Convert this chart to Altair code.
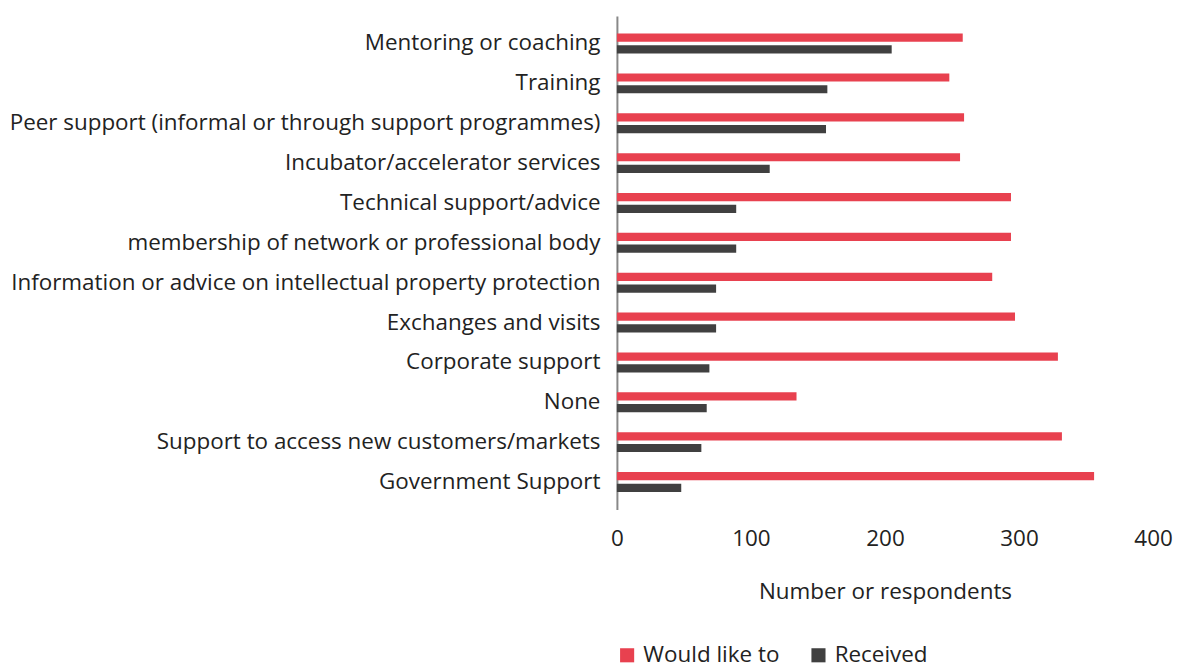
import altair as alt
import pandas as pd

categories = [
    "Mentoring or coaching",
    "Training",
    "Peer support (informal or through support programmes)",
    "Incubator/accelerator services",
    "Technical support/advice",
    "membership of network or professional body",
    "Information or advice on intellectual property protection",
    "Exchanges and visits",
    "Corporate support",
    "None",
    "Support to access new customers/markets",
    "Government Support",
]
would_like_to = [258, 248, 259, 256, 294, 294, 280, 297, 329, 134, 332, 356]
received = [205, 157, 156, 114, 89, 89, 74, 74, 69, 67, 63, 48]
series = ["Would like to", "Received"]
colors = ["#E8414F", "#404040"]

rows = []
for c, w, r in zip(categories, would_like_to, received):
    rows.append({"Category": c, "Series": series[0], "Value": w})
    rows.append({"Category": c, "Series": series[1], "Value": r})
df = pd.DataFrame(rows)

FONT = "Open Sans"
FS = 22.5

chart = alt.Chart(df).mark_bar().encode(
    y=alt.Y("Category:N", sort=categories,
            scale=alt.Scale(paddingInner=0.5, paddingOuter=0.4375),
            axis=alt.Axis(title=None, ticks=False, labelPadding=17,
                          labelFontSize=FS, labelColor="#222222", labelFont=FONT,
                          labelLimit=700, domainColor="#888888", domainWidth=2,
                          minExtent=609, maxExtent=609)),
    yOffset=alt.YOffset("Series:N", sort=series,
                        scale=alt.Scale(paddingInner=0.3)),
    x=alt.X("Value:Q", scale=alt.Scale(domain=[0, 400]),
            axis=alt.Axis(values=[0, 100, 200, 300, 400], grid=False, domain=False,
                          ticks=False, labelFlush=False, labelPadding=18,
                          labelFontSize=FS, labelColor="#222222", labelFont=FONT,
                          title="Number or respondents", titleFontSize=FS,
                          titleFontWeight="normal", titleColor="#222222",
                          titleFont=FONT, titlePadding=31)),
    color=alt.Color("Series:N", sort=series,
                    scale=alt.Scale(domain=series, range=colors),
                    legend=alt.Legend(title=None, orient="none", direction="horizontal",
                                      legendX=-1, legendY=630, symbolType="square",
                                      symbolSize=200, symbolStrokeWidth=0,
                                      labelFontSize=FS, labelFont=FONT,
                                      labelColor="#222222", columnPadding=27,
                                      labelOffset=5, padding=0)),
).properties(
    width=538, height=495,
    padding={"left": 0, "top": 7, "right": 0, "bottom": 0},
).configure_view(stroke=None)

chart.save("out.html", embed_options={"renderer": "svg", "actions": False})
